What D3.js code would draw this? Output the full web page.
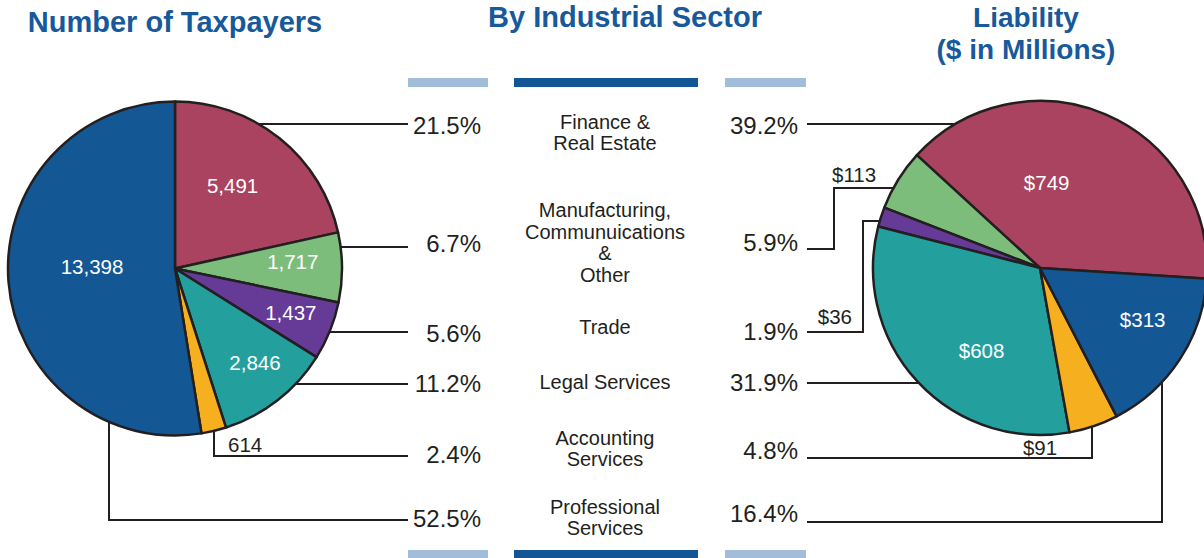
<!DOCTYPE html>
<html>
<head>
<meta charset="utf-8">
<script src="https://cdn.jsdelivr.net/npm/d3@7/dist/d3.min.js"></script>
<style>
  html, body { margin: 0; padding: 0; background: #ffffff; }
  svg { display: block; }
  text { font-family: "Liberation Sans", Arial, Helvetica, sans-serif; }
</style>
</head>
<body>
<svg id="chart" width="1204" height="558"></svg>
<script>
// ---- data ----
const categories = [
  ["Finance &", "Real Estate"],
  ["Manufacturing,", "Communuications", "&", "Other"],
  ["Trade"],
  ["Legal Services"],
  ["Accounting", "Services"],
  ["Professional", "Services"]
];
const taxpayers = [5491, 1717, 1437, 2846, 614, 13398];
const taxpayerLabels = ["5,491", "1,717", "1,437", "2,846", "614", "13,398"];
const taxpayerPct = ["21.5%", "6.7%", "5.6%", "11.2%", "2.4%", "52.5%"];
const liability = [749, 113, 36, 608, 91, 313];
const liabilityLabels = ["$749", "$113", "$36", "$608", "$91", "$313"];
const liabilityPct = ["39.2%", "5.9%", "1.9%", "31.9%", "4.8%", "16.4%"];
const sliceColors = ["#AA435F", "#7DBD7B", "#663A97", "#23A09E", "#F6B01F", "#135795"];

// ---- layout ----
const R = 167;
const ink = "#231F20";
const titleBlue = "#17599A";
const deg = Math.PI / 180;

const svg = d3.select("#chart");

// titles
const titles = svg.append("g").attr("font-weight", "bold").attr("font-size", 29)
  .attr("fill", titleBlue).attr("text-anchor", "middle");
titles.append("text").attr("x", 175).attr("y", 32).text("Number of Taxpayers");
titles.append("text").attr("x", 625).attr("y", 27).text("By Industrial Sector");
titles.append("text").attr("x", 1026).attr("y", 27).attr("font-size", 28).text("Liability");
titles.append("text").attr("x", 1026).attr("y", 59).attr("font-size", 28).text("($ in Millions)");

// decorative header / footer rules
const rules = [
  { x0: 408, x1: 488, c: "#A1BDD9" },
  { x0: 514, x1: 698, c: "#125696" },
  { x0: 725, x1: 806, c: "#A1BDD9" }
];
[78, 550].forEach(y => {
  svg.append("g").selectAll("rect").data(rules).join("rect")
    .attr("x", d => d.x0).attr("y", y)
    .attr("width", d => d.x1 - d.x0).attr("height", 9)
    .attr("fill", d => d.c);
});

// centre column: sector names
const catBase = [129, 217, 334, 389, 445, 514];
const catG = svg.append("g").attr("font-size", 20).attr("fill", ink).attr("text-anchor", "middle");
categories.forEach((lines, i) => {
  const t = catG.append("text").attr("x", 605).attr("y", catBase[i]);
  lines.forEach((ln, j) => {
    t.append("tspan").attr("x", 605).attr("dy", j === 0 ? 0 : (lines.length > 2 ? 21.5 : 21)).text(ln);
  });
});

// percentage columns
const pctLeftBase = [134, 252, 342, 392, 463, 527];
const pctRightBase = [134, 251, 340, 391, 459, 522];
const pctG = svg.append("g").attr("font-size", 24).attr("fill", ink).attr("text-anchor", "end");
taxpayerPct.forEach((p, i) => pctG.append("text").attr("x", 481).attr("y", pctLeftBase[i]).text(p));
liabilityPct.forEach((p, i) => pctG.append("text").attr("x", 798).attr("y", pctRightBase[i]).text(p));

// ---- pies ----
const arc = d3.arc().innerRadius(0).outerRadius(R);

function drawPie(cx, cy, values, pie) {
  const g = svg.append("g").attr("transform", `translate(${cx},${cy})`);
  const arcs = pie(values.map((v, i) => ({ v, i })));
  g.selectAll("path").data(arcs).join("path")
    .attr("d", arc)
    .attr("fill", d => sliceColors[d.data.i])
    .attr("stroke", ink).attr("stroke-width", 2.5).attr("stroke-linejoin", "round");
  return { g, arcs };
}

// point on a pie's rim at a given y (side = -1 left, +1 right) or at a given x (below centre)
const rimX = (cx, cy, y, side) => cx + side * Math.sqrt(R * R - (y - cy) * (y - cy));
const rimYBelow = (cx, cy, x) => cy + Math.sqrt(R * R - (x - cx) * (x - cx));

// inside label placement: radius and angular nudge from slice mid-angle
function placeLabel(g, a, text, r, nudgeDeg) {
  const mid = (a.startAngle + a.endAngle) / 2 + nudgeDeg * deg;
  g.append("text")
    .attr("x", r * Math.sin(mid)).attr("y", -r * Math.cos(mid) + 7)
    .attr("text-anchor", "middle").attr("font-size", 20.5).attr("fill", "#ffffff")
    .text(text);
}

// left pie: clockwise from 12 o'clock
const LX = 175, LY = 268.5;
const left = drawPie(LX, LY, taxpayers,
  d3.pie().value(d => d.v).sort(null).startAngle(0).endAngle(2 * Math.PI));

const leftInside = { 0: [101, -4], 1: [118, -3], 2: [124, -1], 3: [124, -2.3], 5: [83, 5.3] };
Object.entries(leftInside).forEach(([i, [r, n]]) =>
  placeLabel(left.g, left.arcs[+i], taxpayerLabels[+i], r, n));

// right pie: counter-clockwise, Finance ending at about -47.5 deg
const RX = 1040, RY = 268;
const rStart = -47.5 * deg + liability[0] / d3.sum(liability) * 2 * Math.PI;
const right = drawPie(RX, RY, liability,
  d3.pie().value(d => d.v).sort(null).startAngle(rStart).endAngle(rStart - 2 * Math.PI));

const rightInside = { 0: [85, -18.6], 3: [101.5, -12], 5: [115, -6.4] };
Object.entries(rightInside).forEach(([i, [r, n]]) =>
  placeLabel(right.g, right.arcs[+i], liabilityLabels[+i], r, n));

// ---- leader lines ----
const leaders = svg.append("g").attr("fill", "none").attr("stroke", ink)
  .attr("stroke-width", 2).attr("stroke-linejoin", "miter");
const line = d3.line();

// left side
const leftY = [124, 247, 332, 384, 456, 520];
const leftEnd = 408;
[0, 1, 2, 3].forEach(i => {
  leaders.append("path").attr("d", line([[rimX(LX, LY, leftY[i], 1), leftY[i]], [leftEnd, leftY[i]]]));
});
const leftElbow = { 4: 214, 5: 109 };
Object.entries(leftElbow).forEach(([i, x]) => {
  const y = leftY[+i];
  leaders.append("path").attr("d", line([[x, rimYBelow(LX, LY, x) - 1], [x, y], [leftEnd, y]]));
});

// right side
const rightY = [124, 249, 332, 383, 458, 522];
const rightStart = 807;
[0, 3].forEach(i => {
  leaders.append("path").attr("d", line([[rightStart, rightY[i]], [rimX(RX, RY, rightY[i], -1), rightY[i]]]));
});
const rightStep = { 1: [834, 188], 2: [863, 221] };
Object.entries(rightStep).forEach(([i, [x, y2]]) => {
  const y = rightY[+i];
  leaders.append("path").attr("d", line([[rightStart, y], [x, y], [x, y2], [rimX(RX, RY, y2, -1) + 1, y2]]));
});
const rightElbow = { 4: 1092, 5: 1162 };
Object.entries(rightElbow).forEach(([i, x]) => {
  const y = rightY[+i];
  leaders.append("path").attr("d", line([[rightStart, y], [x, y], [x, rimYBelow(RX, RY, x) - 1]]));
});

// outside value labels beside their leaders
const outG = svg.append("g").attr("font-size", 20.5).attr("fill", ink);
outG.append("text").attr("x", 228).attr("y", 452).text(taxpayerLabels[4]);
outG.append("text").attr("x", 832).attr("y", 182).text(liabilityLabels[1]);
outG.append("text").attr("x", 852).attr("y", 324).attr("text-anchor", "end").text(liabilityLabels[2]);
outG.append("text").attr("x", 1040).attr("y", 455).attr("text-anchor", "middle").text(liabilityLabels[4]);
</script>
</body>
</html>
